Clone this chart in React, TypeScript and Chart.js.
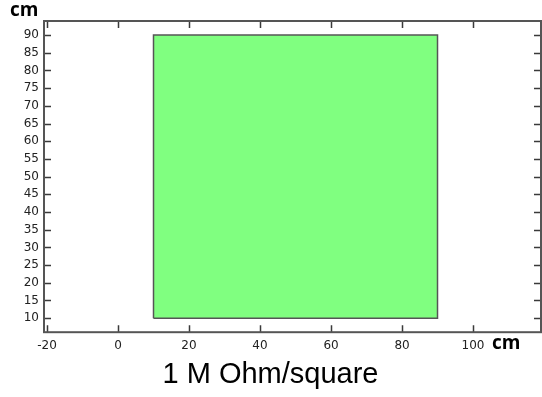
import React, { useEffect, useRef } from "react";
import { Chart, registerables } from "chart.js";

Chart.register(...registerables);

// Square sheet outline (cm)
const squareX = [10, 90, 90, 10, 10];
const squareY = [10, 10, 90, 90, 10];

// Axis ranges (cm)
const xRange = [-20.845, 119.15];
const yRange = [6.04, 93.96];

// Tick values (cm)
const xTicks = [-20, 0, 20, 40, 60, 80, 100];
const yTicks = [10, 15, 20, 25, 30, 35, 40, 45, 50, 55, 60, 65, 70, 75, 80, 85, 90];

const unitLabel = "cm";
const titleText = "1 M Ohm/square";

const frameColor = "#555555";
const tickColor = "#3a3a3a";
const labelColor = "#222222";

// Draws the boxed frame with inward tick marks on all four sides, plus unit labels
const framePlugin = {
  id: "frameTicks",
  afterDraw(chart: any) {
    const { ctx, chartArea, scales } = chart;
    const { left, right, top, bottom } = chartArea;
    const len = 7;
    ctx.save();
    ctx.strokeStyle = tickColor;
    ctx.lineWidth = 1.5;
    ctx.beginPath();
    for (const t of scales.x.ticks) {
      const px = Math.round(scales.x.getPixelForValue(t.value)) + 0.5;
      ctx.moveTo(px, bottom);
      ctx.lineTo(px, bottom - len);
      ctx.moveTo(px, top);
      ctx.lineTo(px, top + len);
    }
    for (const t of scales.y.ticks) {
      const py = Math.round(scales.y.getPixelForValue(t.value)) + 0.5;
      ctx.moveTo(left, py);
      ctx.lineTo(left + len, py);
      ctx.moveTo(right, py);
      ctx.lineTo(right - len, py);
    }
    ctx.stroke();

    ctx.strokeStyle = frameColor;
    ctx.lineWidth = 2;
    ctx.strokeRect(left, top, right - left, bottom - top);

    ctx.fillStyle = "#000000";
    ctx.font = "bold 19px 'Open Sans'";
    ctx.textBaseline = "alphabetic";
    ctx.textAlign = "left";
    ctx.fillText(unitLabel, 10, 16);
    ctx.fillText(unitLabel, 492, 349);
    ctx.restore();
  },
};

export default function App() {
  const canvasRef = useRef<HTMLCanvasElement | null>(null);

  useEffect(() => {
    const canvas = canvasRef.current;
    if (!canvas) return;
    const tickFont = { family: "'DejaVu Sans'", size: 12 };
    const chart = new Chart(canvas, {
      type: "scatter",
      data: {
        datasets: [
          {
            data: squareX.map((x, i) => ({ x, y: squareY[i] })),
            showLine: true,
            fill: "shape",
            backgroundColor: "#80ff80",
            borderColor: "#555555",
            borderWidth: 1.5,
            pointRadius: 0,
            tension: 0,
          } as any,
        ],
      },
      options: {
        animation: false,
        responsive: false,
        devicePixelRatio: 1,
        layout: { padding: { left: 0, right: 1, top: 21, bottom: 0 } },
        plugins: {
          legend: { display: false },
          tooltip: { enabled: false },
          title: {
            display: true,
            position: "bottom",
            text: titleText,
            color: "#000000",
            font: { family: "'Liberation Sans'", size: 29, weight: "normal" },
            padding: { top: 0, bottom: 5 },
          },
        },
        scales: {
          x: {
            type: "linear",
            min: xRange[0],
            max: xRange[1],
            grid: { display: false, drawTicks: false },
            border: { display: false },
            afterBuildTicks(scale: any) {
              scale.ticks = xTicks.map((value) => ({ value }));
            },
            ticks: {
              padding: 6,
              color: labelColor,
              font: tickFont,
              maxRotation: 0,
              autoSkip: false,
              callback: (v: any) => String(v),
            },
            afterFit(scale: any) {
              scale.height = 25;
            },
          },
          y: {
            type: "linear",
            min: yRange[0],
            max: yRange[1],
            grid: { display: false, drawTicks: false },
            border: { display: false },
            afterBuildTicks(scale: any) {
              scale.ticks = yTicks.map((value) => ({ value }));
            },
            ticks: {
              padding: 5,
              color: labelColor,
              font: tickFont,
              autoSkip: false,
              callback: (v: any) => String(v),
            },
            afterFit(scale: any) {
              scale.width = 44;
            },
          },
        },
      },
      plugins: [framePlugin],
    });
    return () => chart.destroy();
  }, []);

  return (
    <div style={{ position: "fixed", left: 0, top: 0, width: 542, height: 397, background: "#ffffff" }}>
      <canvas ref={canvasRef} width={542} height={397} style={{ display: "block" }} />
    </div>
  );
}
